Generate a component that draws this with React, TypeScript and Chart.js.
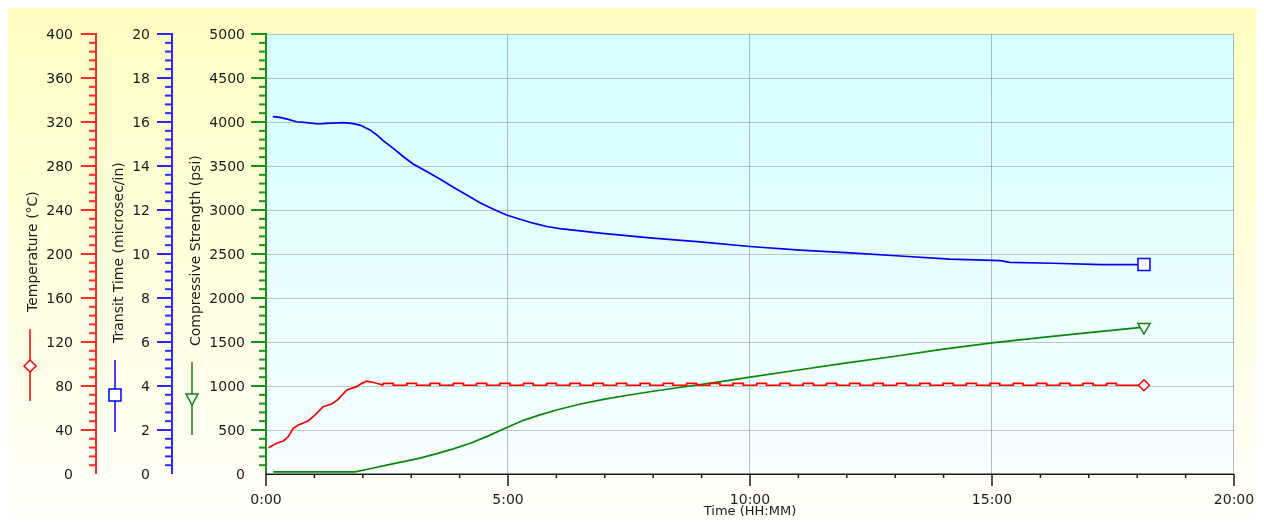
import React, { useEffect, useRef } from 'react';
import { Chart, registerables } from 'chart.js';

Chart.register(...registerables);

// ---- Readings (time in hours) ----
// Temperature while heating up
const tempRiseHours = [0.05, 0.22, 0.36, 0.46, 0.56, 0.67, 0.87, 1.01, 1.18, 1.36, 1.49, 1.67, 1.87, 1.98, 2.08, 2.25, 2.42];
const tempRiseC = [23.9, 27.9, 30.0, 33.9, 41.5, 44.5, 48.2, 53.6, 61.2, 63.6, 67.9, 76.4, 79.4, 82.4, 84.5, 83.0, 80.7];

// Temperature at the controlled hold (controller cycling)
const tempHoldHours = [
  2.42, 2.63, 2.91, 3.11, 3.39, 3.59, 3.87, 4.08, 4.35, 4.56, 4.83, 5.04, 5.32, 5.52, 5.80, 6.00, 6.28,
  6.49, 6.76, 6.97, 7.24, 7.45, 7.73, 7.93, 8.21, 8.41, 8.69, 8.90, 9.17, 9.38, 9.65, 9.86, 10.14,
  10.34, 10.62, 10.82, 11.10, 11.31, 11.58, 11.79, 12.06, 12.27, 12.55, 12.75, 13.03, 13.23, 13.51,
  13.72, 13.99, 14.20, 14.47, 14.68, 14.96, 15.16, 15.44, 15.64, 15.92, 16.13, 16.40, 16.61, 16.88,
  17.09, 17.37, 17.57, 17.85, 18.14,
];
const tempHoldC = [
  80.7, 82.4, 80.7, 82.4, 80.7, 82.4, 80.7, 82.4, 80.7, 82.4, 80.7, 82.4, 80.7, 82.4, 80.7, 82.4, 80.7,
  82.4, 80.7, 82.4, 80.7, 82.4, 80.7, 82.4, 80.7, 82.4, 80.7, 82.4, 80.7, 82.4, 80.7, 82.4, 80.7,
  82.4, 80.7, 82.4, 80.7, 82.4, 80.7, 82.4, 80.7, 82.4, 80.7, 82.4, 80.7, 82.4, 80.7,
  82.4, 80.7, 82.4, 80.7, 82.4, 80.7, 82.4, 80.7, 82.4, 80.7, 82.4, 80.7, 82.4, 80.7,
  82.4, 80.7, 82.4, 80.7, 80.7,
];

// Ultrasonic transit time
const transitHours = [
  0.14, 0.29, 0.46, 0.63, 0.84, 1.08, 1.25, 1.60, 1.77, 1.94, 2.15, 2.29, 2.42, 2.63, 2.84, 3.04,
  3.32, 3.60, 3.87, 4.15, 4.42, 4.70, 4.97, 5.25, 5.52, 5.80, 6.07, 6.49, 6.90, 7.93, 8.97, 10.00,
  11.03, 12.07, 13.10, 14.13, 15.17, 15.37, 16.26, 17.27, 18.14,
];
const transitUs = [
  16.24, 16.21, 16.12, 16.01, 15.97, 15.91, 15.94, 15.97, 15.94, 15.86, 15.64, 15.41, 15.15, 14.80, 14.42, 14.09,
  13.75, 13.40, 13.03, 12.68, 12.33, 12.03, 11.77, 11.58, 11.40, 11.25, 11.15, 11.05, 10.95, 10.73, 10.55, 10.34,
  10.18, 10.05, 9.91, 9.77, 9.70, 9.62, 9.58, 9.52, 9.52,
];

// Computed compressive strength
const strengthHours = [
  0.15, 1.84, 2.15, 2.49, 2.84, 3.18, 3.53, 3.87, 4.22, 4.56, 4.94, 5.32, 5.66, 6.00, 6.50, 7.00,
  7.50, 8.00, 8.50, 9.00, 9.50, 10.00, 11.00, 12.00, 13.00, 14.00, 15.00, 16.00, 17.00, 18.14,
];
const strengthPsi = [
  25, 25, 60, 100, 140, 180, 232, 285, 350, 425, 520, 610, 672, 727, 795, 850,
  898, 940, 980, 1018, 1058, 1100, 1182, 1262, 1338, 1418, 1490, 1550, 1607, 1670,
];

// ---- Axis ticks ----
const tempTicks = [0, 40, 80, 120, 160, 200, 240, 280, 320, 360, 400];
const transitTicks = [0, 2, 4, 6, 8, 10, 12, 14, 16, 18, 20];
const strengthTicks = [0, 500, 1000, 1500, 2000, 2500, 3000, 3500, 4000, 4500, 5000];
const timeTickHours = [0, 5, 10, 15, 20];
const timeTickLabels = ['0:00', '5:00', '10:00', '15:00', '20:00'];

const RED = '#ff0000';
const BLUE = '#0000ff';
const GREEN = '#0a870a';
const RED_AXIS = '#ff2a2a';
const BLUE_AXIS = '#2a2aff';
const GREEN_AXIS = '#169216';
const TEXT = '#1c1c1c';
const FONT = '"DejaVu Sans", Verdana, sans-serif';

const toPoints = (xs: number[], ys: number[]) => xs.map((x, i) => ({ x, y: ys[i] }));

type AxisSpec = {
  scaleId: string;
  ticks: number[];
  minorPerMajor: number;
  axisX: number;
  labelRight: number;
  color: string;
};

const leftAxes: AxisSpec[] = [
  { scaleId: 'yTemp', ticks: tempTicks, minorPerMajor: 5, axisX: 88, labelRight: 65, color: RED_AXIS },
  { scaleId: 'yTransit', ticks: transitTicks, minorPerMajor: 5, axisX: 164, labelRight: 142, color: BLUE_AXIS },
  { scaleId: 'yStrength', ticks: strengthTicks, minorPerMajor: 5, axisX: 258, labelRight: 237, color: GREEN_AXIS },
];

type Legend = { title: string; titleX: number; titleBottom: number; x: number; y0: number; y1: number; my: number; color: string; shape: string };

const legends: Legend[] = [
  { title: 'Temperature (°C)', titleX: 25, titleBottom: 304, x: 22, y0: 321, y1: 393, my: 358, color: RED, shape: 'diamond' },
  { title: 'Transit Time (microsec/in)', titleX: 111, titleBottom: 335, x: 107, y0: 352, y1: 424, my: 387, color: BLUE, shape: 'square' },
  { title: 'Compressive Strength (psi)', titleX: 188, titleBottom: 338, x: 184, y0: 354, y1: 427, my: 390, color: GREEN, shape: 'triangle' },
];

function drawMarker(ctx: CanvasRenderingContext2D, shape: string, x: number, y: number, color: string) {
  ctx.save();
  ctx.fillStyle = '#ffffff';
  ctx.strokeStyle = color;
  ctx.lineWidth = 1.5;
  ctx.beginPath();
  if (shape === 'diamond') {
    ctx.moveTo(x, y - 6);
    ctx.lineTo(x + 6, y);
    ctx.lineTo(x, y + 6);
    ctx.lineTo(x - 6, y);
    ctx.closePath();
  } else if (shape === 'square') {
    ctx.rect(x - 6, y - 6, 12, 12);
  } else {
    ctx.moveTo(x - 6, y - 4);
    ctx.lineTo(x + 6, y - 4);
    ctx.lineTo(x, y + 7);
    ctx.closePath();
  }
  ctx.fill();
  ctx.stroke();
  ctx.restore();
}

const panelPlugin = {
  id: 'curingPanel',
  beforeDraw(chart: any) {
    const { ctx, width, height, chartArea } = chart;
    ctx.save();
    const outer = ctx.createLinearGradient(0, 0, 0, height);
    outer.addColorStop(0, '#ffffc2');
    outer.addColorStop(1, '#fffffa');
    ctx.fillStyle = outer;
    ctx.fillRect(0, 0, width, height);

    const inner = ctx.createLinearGradient(0, chartArea.top, 0, chartArea.bottom);
    inner.addColorStop(0, '#d4ffff');
    inner.addColorStop(1, '#f8ffff');
    ctx.fillStyle = inner;
    ctx.fillRect(chartArea.left, chartArea.top, chartArea.right - chartArea.left, chartArea.bottom - chartArea.top);
    ctx.restore();
  },
  beforeDatasetsDraw(chart: any) {
    const { ctx, chartArea, scales } = chart;
    const ys = scales.yStrength;
    const xs = scales.x;
    ctx.save();
    ctx.lineWidth = 1;
    // horizontal grid
    ctx.strokeStyle = 'rgba(120,120,120,0.42)';
    strengthTicks.forEach((v) => {
      if (v === 0) return;
      const y = Math.round(ys.getPixelForValue(v)) + 0.5;
      ctx.beginPath();
      ctx.moveTo(chartArea.left, y);
      ctx.lineTo(chartArea.right, y);
      ctx.stroke();
    });
    // vertical grid and right border
    ctx.strokeStyle = 'rgba(120,120,120,0.5)';
    timeTickHours.forEach((h) => {
      if (h === 0) return;
      const x = Math.round(xs.getPixelForValue(h)) - 0.5;
      ctx.beginPath();
      ctx.moveTo(x, chartArea.top);
      ctx.lineTo(x, chartArea.bottom);
      ctx.stroke();
    });
    ctx.restore();
  },
  afterDatasetsDraw(chart: any) {
    const { ctx, chartArea, scales } = chart;
    ctx.save();

    // left value axes
    leftAxes.forEach((a) => {
      const sc = scales[a.scaleId];
      const top = sc.getPixelForValue(sc.max);
      const bottom = sc.getPixelForValue(sc.min);
      ctx.strokeStyle = a.color;
      ctx.lineWidth = 2;
      ctx.beginPath();
      ctx.moveTo(a.axisX, top - 1);
      ctx.lineTo(a.axisX, bottom);
      ctx.stroke();

      const major = a.ticks[1] - a.ticks[0];
      const minor = major / a.minorPerMajor;
      const count = Math.round((sc.max - sc.min) / minor);
      for (let i = 1; i <= count; i++) {
        const v = sc.min + i * minor;
        const y = sc.getPixelForValue(v);
        const isMajor = i % a.minorPerMajor === 0;
        const len = isMajor ? 15 : 7;
        ctx.beginPath();
        ctx.moveTo(a.axisX - len, y);
        ctx.lineTo(a.axisX, y);
        ctx.stroke();
      }

      ctx.fillStyle = TEXT;
      ctx.font = `14px ${FONT}`;
      ctx.textAlign = 'right';
      ctx.textBaseline = 'middle';
      a.ticks.forEach((v) => {
        ctx.fillText(String(v), a.labelRight, sc.getPixelForValue(v) + 1);
      });
    });

    // time axis
    const xs = scales.x;
    const y0 = chartArea.bottom;
    ctx.strokeStyle = '#1a1a1a';
    ctx.lineWidth = 1.5;
    ctx.beginPath();
    ctx.moveTo(chartArea.left, y0 + 0.25);
    ctx.lineTo(chartArea.right, y0 + 0.25);
    ctx.stroke();
    ctx.lineWidth = 1.5;
    for (let h = 0; h <= 20; h++) {
      const x = xs.getPixelForValue(h);
      const len = h % 5 === 0 ? 12 : 4;
      ctx.beginPath();
      ctx.moveTo(x, y0);
      ctx.lineTo(x, y0 + len);
      ctx.stroke();
    }
    ctx.fillStyle = TEXT;
    ctx.font = `14px ${FONT}`;
    ctx.textAlign = 'center';
    ctx.textBaseline = 'middle';
    timeTickHours.forEach((h, i) => {
      ctx.fillText(timeTickLabels[i], xs.getPixelForValue(h), y0 + 26);
    });
    ctx.font = `13px ${FONT}`;
    ctx.fillText('Time (HH:MM)', (chartArea.left + chartArea.right) / 2, y0 + 38);

    // rotated titles with their series markers
    legends.forEach((l) => {
      ctx.save();
      ctx.translate(l.titleX, l.titleBottom);
      ctx.rotate(-Math.PI / 2);
      ctx.fillStyle = TEXT;
      ctx.font = `14px ${FONT}`;
      ctx.textAlign = 'left';
      ctx.textBaseline = 'middle';
      ctx.fillText(l.title, 0, 0);
      ctx.restore();

      ctx.strokeStyle = l.color;
      ctx.lineWidth = 1.5;
      ctx.beginPath();
      ctx.moveTo(l.x, l.y0);
      ctx.lineTo(l.x, l.y1);
      ctx.stroke();
      drawMarker(ctx, l.shape, l.x, l.my, l.color);
    });

    ctx.restore();
  },
};

const lastOnly = (r: number) => (c: any) => (c.dataIndex === c.dataset.data.length - 1 ? r : 0);

export default function App() {
  const ref = useRef<HTMLCanvasElement>(null);

  useEffect(() => {
    const canvas = ref.current;
    if (!canvas) return;
    const chart = new Chart(canvas, {
      type: 'line',
      data: {
        datasets: [
          {
            label: 'Temperature',
            data: toPoints(tempRiseHours, tempRiseC),
            yAxisID: 'yTemp',
            borderColor: RED,
            borderWidth: 1.7,
            pointRadius: 0,
            tension: 0,
          },
          {
            label: 'Temperature hold',
            data: toPoints(tempHoldHours, tempHoldC),
            yAxisID: 'yTemp',
            borderColor: RED,
            borderWidth: 1.7,
            stepped: 'after',
            pointStyle: 'rectRot',
            pointRadius: lastOnly(5.5),
            pointBorderWidth: 1.5,
            pointBorderColor: RED,
            pointBackgroundColor: '#ffffff',
          },
          {
            label: 'Transit Time',
            data: toPoints(transitHours, transitUs),
            yAxisID: 'yTransit',
            borderColor: BLUE,
            borderWidth: 1.7,
            tension: 0,
            pointStyle: 'rect',
            pointRadius: lastOnly(8.5),
            pointBorderWidth: 1.5,
            pointBorderColor: BLUE,
            pointBackgroundColor: '#ffffff',
          },
          {
            label: 'Compressive Strength',
            data: toPoints(strengthHours, strengthPsi),
            yAxisID: 'yStrength',
            borderColor: GREEN,
            borderWidth: 1.7,
            tension: 0,
            pointStyle: 'triangle',
            pointRotation: 180,
            pointRadius: lastOnly(7),
            pointBorderWidth: 1.5,
            pointBorderColor: GREEN,
            pointBackgroundColor: '#ffffff',
          },
        ],
      },
      options: {
        responsive: false,
        maintainAspectRatio: false,
        animation: false,
        devicePixelRatio: 1,
        events: [],
        layout: { padding: { left: 258, top: 26, right: 22, bottom: 43 } },
        plugins: { legend: { display: false }, tooltip: { enabled: false } },
        scales: {
          x: { type: 'linear', min: 0, max: 20, display: false },
          yTemp: { type: 'linear', axis: 'y', position: 'left', min: 0, max: 400, display: false },
          yTransit: { type: 'linear', axis: 'y', position: 'left', min: 0, max: 20, display: false },
          yStrength: { type: 'linear', axis: 'y', position: 'left', min: 0, max: 5000, display: false },
        },
      } as any,
      plugins: [panelPlugin],
    });
    return () => chart.destroy();
  }, []);

  return <canvas ref={ref} width={1248} height={509} style={{ display: 'block', width: 1248, height: 509 }} />;
}
